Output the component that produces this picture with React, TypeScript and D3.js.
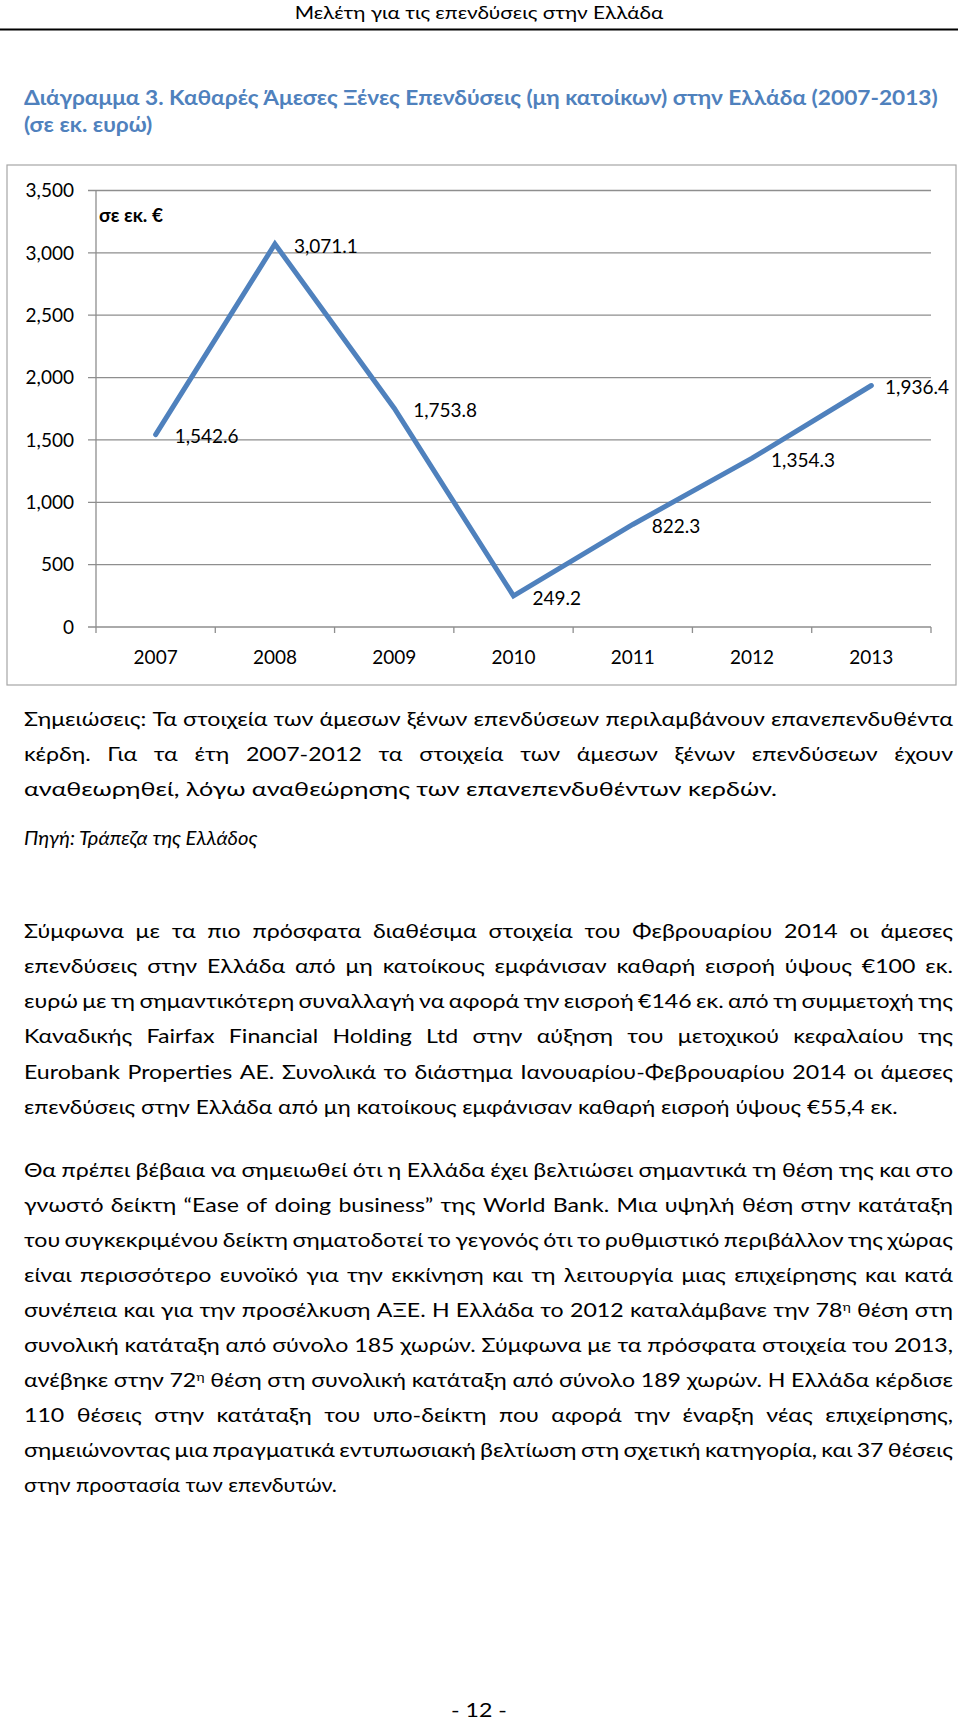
import React, { useMemo } from "react";
import * as d3 from "d3";

// chart data
const years = ["2007", "2008", "2009", "2010", "2011", "2012", "2013"];
const fdiValues = [1542.6, 3071.1, 1753.8, 249.2, 822.3, 1354.3, 1936.4];
const yTicks = [0, 500, 1000, 1500, 2000, 2500, 3000, 3500];

// page text
const headerText = "Μελέτη για τις επενδύσεις στην Ελλάδα";
const titleLines = [
  "Διάγραμμα 3. Καθαρές Άμεσες Ξένες Επενδύσεις (μη κατοίκων) στην Ελλάδα (2007-2013)",
  "(σε εκ. ευρώ)",
];
const unitLabel = "σε εκ. €";
const notesLines = [
  "Σημειώσεις: Τα στοιχεία των άμεσων ξένων επενδύσεων περιλαμβάνουν επανεπενδυθέντα",
  "κέρδη. Για τα έτη 2007-2012 τα στοιχεία των άμεσων ξένων επενδύσεων έχουν",
  "αναθεωρηθεί, λόγω αναθεώρησης των επανεπενδυθέντων κερδών.",
];
const sourceLine = "Πηγή: Τράπεζα της Ελλάδος";
const paragraph2 = [
  "Σύμφωνα με τα πιο πρόσφατα διαθέσιμα στοιχεία του Φεβρουαρίου 2014 οι άμεσες",
  "επενδύσεις στην Ελλάδα από μη κατοίκους εμφάνισαν καθαρή εισροή ύψους €100 εκ.",
  "ευρώ με τη σημαντικότερη συναλλαγή να αφορά την εισροή €146 εκ. από τη συμμετοχή της",
  "Καναδικής Fairfax Financial Holding Ltd στην αύξηση του μετοχικού κεφαλαίου της",
  "Eurobank Properties AE. Συνολικά το διάστημα Ιανουαρίου-Φεβρουαρίου 2014 οι άμεσες",
  "επενδύσεις στην Ελλάδα από μη κατοίκους εμφάνισαν καθαρή εισροή ύψους €55,4 εκ.",
];
const paragraph3 = [
  "Θα πρέπει βέβαια να σημειωθεί ότι η Ελλάδα έχει βελτιώσει σημαντικά τη θέση της και στο",
  "γνωστό δείκτη “Ease of doing business” της World Bank. Μια υψηλή θέση στην κατάταξη",
  "του συγκεκριμένου δείκτη σηματοδοτεί το γεγονός ότι το ρυθμιστικό περιβάλλον της χώρας",
  "είναι περισσότερο ευνοϊκό για την εκκίνηση και τη λειτουργία μιας επιχείρησης και κατά",
  "συνέπεια και για την προσέλκυση ΑΞΕ. Η Ελλάδα το 2012 καταλάμβανε την 78^η θέση στη",
  "συνολική κατάταξη από σύνολο 185 χωρών. Σύμφωνα με τα πρόσφατα στοιχεία του 2013,",
  "ανέβηκε στην 72^η θέση στη συνολική κατάταξη από σύνολο 189 χωρών. Η Ελλάδα κέρδισε",
  "110 θέσεις στην κατάταξη του υπο-δείκτη που αφορά την έναρξη νέας επιχείρησης,",
  "σημειώνοντας μια πραγματικά εντυπωσιακή βελτίωση στη σχετική κατηγορία, και 37 θέσεις",
  "στην προστασία των επενδυτών.",
];
const pageNumber = "- 12 -";

const FONT = "Lato, 'Open Sans', 'Noto Sans', sans-serif";
const BODY_SIZE = 18.6;
const CHART_SIZE = 19;
const LINE_H = 35.1;
const X0 = 24;
const X1 = 953;
const BLUE = "#4F81BD";
const GRID = "#8e8e8e";

// text measuring through a canvas (system fonts, available synchronously)
const ctx = document.createElement("canvas").getContext("2d")!;
function measure(text: string, font: string) {
  ctx.font = font;
  return ctx.measureText(text).width;
}
function wordWidth(word: string, size: number, style = "") {
  const [base, sup] = word.split("^");
  let w = measure(base, `${style}${size}px ${FONT}`);
  if (sup) w += measure(sup, `${style}${size * 0.62}px ${FONT}`);
  return w;
}
function rich(word: string) {
  const [base, sup] = word.split("^");
  if (!sup) return word;
  return (
    <>
      {base}
      <tspan fontSize="0.62em" dy="-0.55em">
        {sup}
      </tspan>
    </>
  );
}
function naturalWidth(text: string, size: number, style = "") {
  const words = text.split(" ");
  const sp = measure(" ", `${style}${size}px ${FONT}`);
  return d3.sum(words, (w) => wordWidth(w, size, style)) + sp * (words.length - 1);
}

// end x of the unjustified lines
const lastLineEnds: [string, number][] = [
  [notesLines[2], 777],
  [paragraph2[5], 898],
  [paragraph3[9], 337],
];

function JustifiedBlock({
  lines,
  top,
  sx,
}: {
  lines: string[];
  top: number;
  sx: number;
}) {
  return (
    <g>
      {lines.map((line, li) => {
        const yb = top + li * LINE_H + 5.5;
        const last = li === lines.length - 1;
        if (last) {
          const end = lastLineEnds.find((d) => d[0] === line)?.[1];
          const ratio = end ? (end - X0) / naturalWidth(line, BODY_SIZE) : sx;
          return (
            <text key={li} transform={`translate(${X0},${yb}) scale(${ratio},1)`}>
              {line}
            </text>
          );
        }
        const words = line.split(" ");
        const widths = words.map((w) => wordWidth(w, BODY_SIZE) * sx);
        const gap = (X1 - X0 - d3.sum(widths)) / (words.length - 1);
        let x = X0;
        return (
          <g key={li}>
            {words.map((w, wi) => {
              const el = (
                <text key={wi} transform={`translate(${x},${yb}) scale(${sx},1)`}>
                  {rich(w)}
                </text>
              );
              x += widths[wi] + gap;
              return el;
            })}
          </g>
        );
      })}
    </g>
  );
}

function FdiChart() {
  const x = d3.scaleBand<string>().domain(years).range([96, 931]);
  const y = d3.scaleLinear().domain([0, 3500]).range([627, 190.5]);
  const cx = (i: number) => (x(years[i]) ?? 0) + x.bandwidth() / 2;
  const path = d3
    .line<number>()
    .x((_, i) => cx(i))
    .y((d) => y(d))(fdiValues);
  const fmt = d3.format(",.1f");
  const tickFmt = d3.format(",");
  const boundaries = years.map((yr) => x(yr) ?? 0).concat([931]);

  return (
    <g fontFamily={FONT} fontSize={CHART_SIZE} fill="#000">
      <rect x={7} y={165} width={949} height={520} fill="none" stroke="#a6a6a6" strokeWidth={1.2} />

      {/* gridlines and y ticks */}
      {yTicks.map((t) => (
        <g key={t}>
          <line x1={88} x2={931} y1={y(t)} y2={y(t)} stroke={GRID} strokeWidth={1.3} />
          <text x={74} y={y(t)} dy="0.36em" textAnchor="end">
            {tickFmt(t)}
          </text>
        </g>
      ))}
      <line x1={96} x2={96} y1={y(3500)} y2={y(0)} stroke={GRID} strokeWidth={1.3} />

      {/* x axis ticks */}
      {boundaries.map((bx, i) => (
        <line key={i} x1={bx} x2={bx} y1={y(0)} y2={y(0) + 6} stroke={GRID} strokeWidth={1.3} />
      ))}
      {years.map((yr, i) => (
        <text key={yr} x={cx(i)} y={657} dy="0.36em" textAnchor="middle">
          {yr}
        </text>
      ))}

      <text x={99} y={215} dy="0.36em" fontWeight="bold">
        {unitLabel}
      </text>

      <path
        d={path ?? ""}
        fill="none"
        stroke={BLUE}
        strokeWidth={5}
        strokeLinejoin="miter"
        strokeLinecap="round"
      />

      {fdiValues.map((v, i) => {
        const label = fmt(v);
        const w = measure(label, `${CHART_SIZE}px ${FONT}`);
        const lx = Math.min(cx(i) + 19, 949 - w);
        return (
          <text key={i} x={lx} y={y(v) + 2} dy="0.36em">
            {label}
          </text>
        );
      })}
    </g>
  );
}

export default function App() {
  const layout = useMemo(() => {
    const ratios = lastLineEnds.map(([t, end]) => (end - X0) / naturalWidth(t, BODY_SIZE));
    const sx = d3.mean(ratios) ?? 1;
    const headerRatio = 369 / measure(headerText, `16.5px ${FONT}`);
    const titleRatio = (939 - X0) / measure(titleLines[0], `bold 20.6px ${FONT}`);
    const sourceRatio = (258 - X0) / naturalWidth(sourceLine, BODY_SIZE, "italic ");
    return { sx, headerRatio, titleRatio, sourceRatio };
  }, []);

  return (
    <svg
      width={960}
      height={1722}
      style={{ position: "absolute", left: 0, top: 0, display: "block", background: "#fff" }}
    >
      <rect width={960} height={1722} fill="#fff" />

      {/* running header */}
      <text
        transform={`translate(479,19) scale(${layout.headerRatio},1)`}
        textAnchor="middle"
        fontFamily={FONT}
        fontSize={16.5}
      >
        {headerText}
      </text>
      <line x1={0} x2={958} y1={29.5} y2={29.5} stroke="#000" strokeWidth={2} />

      {/* figure title */}
      <g fontFamily={FONT} fontSize={20.6} fontWeight="bold" fill={BLUE}>
        {titleLines.map((t, i) => (
          <text key={i} transform={`translate(${X0},${105 + i * 27}) scale(${layout.titleRatio},1)`}>
            {t}
          </text>
        ))}
      </g>

      <FdiChart />

      <g fontFamily={FONT} fontSize={BODY_SIZE} fill="#000">
        <JustifiedBlock lines={notesLines} top={720.6} sx={layout.sx} />
        <text
          transform={`translate(${X0},${839 + 5.5}) scale(${layout.sourceRatio},1)`}
          fontStyle="italic"
        >
          {sourceLine}
        </text>
        <JustifiedBlock lines={paragraph2} top={932.6} sx={layout.sx} />
        <JustifiedBlock lines={paragraph3} top={1171} sx={layout.sx} />
        <text
          transform={`translate(479,1717) scale(${layout.sx},1)`}
          textAnchor="middle"
        >
          {pageNumber}
        </text>
      </g>
    </svg>
  );
}
